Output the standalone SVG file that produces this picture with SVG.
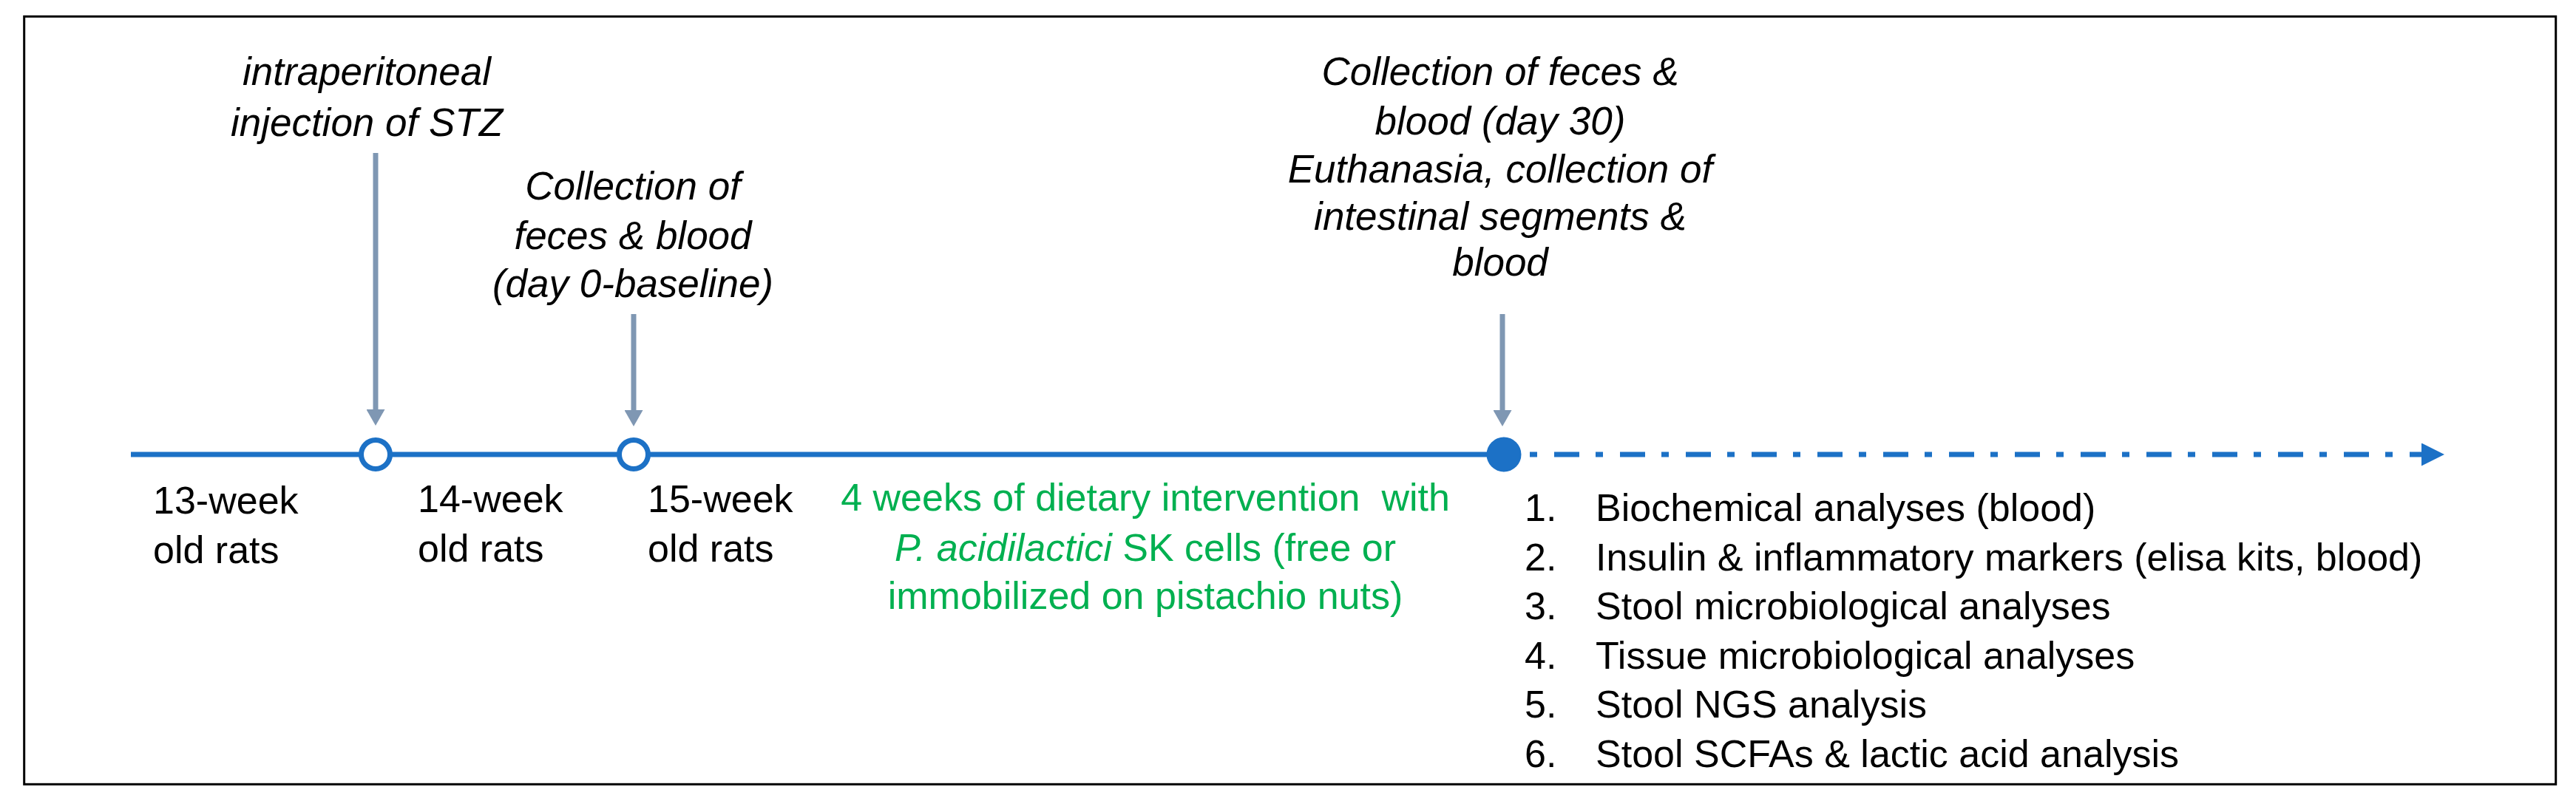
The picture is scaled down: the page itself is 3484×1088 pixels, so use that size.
<svg xmlns="http://www.w3.org/2000/svg" width="3484" height="1088" viewBox="0 0 3484 1088">
<defs>
<style>
.t{font-family:'Liberation Sans',Arial,sans-serif;font-size:52px;fill:#000}
.i{font-style:italic;font-size:53px}
.c{text-anchor:middle}
.g{fill:#00b050}
.tl{stroke:#1c71c6;stroke-width:7;fill:none}
.dash{stroke-dasharray:10 23 34 22}
.ar{stroke:#7f97b3;stroke-width:7;fill:none}
.node{fill:#fff;stroke:#1c71c6;stroke-width:7}
</style>
<marker id="gh" viewBox="0 0 22 25" refX="0" refY="12.5" markerWidth="22" markerHeight="25" markerUnits="userSpaceOnUse" orient="auto">
<path d="M0,0 L22,12.5 L0,25 z" fill="#7f97b3"/>
</marker>
<marker id="bh" viewBox="0 0 31 31" refX="0" refY="15.5" markerWidth="31" markerHeight="31" markerUnits="userSpaceOnUse" orient="auto">
<path d="M0,0 L31,15.5 L0,31 z" fill="#1c71c6"/>
</marker>
</defs>
<rect x="0" y="0" width="3484" height="1088" fill="#fff"/>
<rect id="frame" x="32.7" y="22.3" width="3424" height="1039" fill="none" stroke="#000" stroke-width="3"/>

<g id="connectors">
<line class="tl" x1="177" y1="615" x2="2034" y2="615"/>
<line class="tl dash" x1="2069" y1="615" x2="3275" y2="615" marker-end="url(#bh)"/>
<line class="ar" x1="508" y1="207" x2="508" y2="554" marker-end="url(#gh)"/>
<line class="ar" x1="857" y1="425" x2="857" y2="555" marker-end="url(#gh)"/>
<line class="ar" x1="2032" y1="425" x2="2032" y2="555" marker-end="url(#gh)"/>
</g>

<g id="node-week14">
<circle class="node" cx="508" cy="615" r="19.5"/>
</g>
<g id="node-week15">
<circle class="node" cx="857" cy="615" r="19.5"/>
</g>
<g id="node-day30">
<circle cx="2034" cy="615" r="23.5" fill="#1c71c6"/>
</g>

<g id="label-stz">
<text class="t i c" x="496" y="115">intraperitoneal</text>
<text class="t i c" x="496" y="184">injection of STZ</text>
</g>
<g id="label-baseline">
<text class="t i c" x="856" y="270">Collection of</text>
<text class="t i c" x="856" y="337">feces &amp; blood</text>
<text class="t i c" x="856" y="402">(day 0-baseline)</text>
</g>
<g id="label-day30">
<text class="t i c" x="2029" y="115">Collection of feces &amp;</text>
<text class="t i c" x="2029" y="182">blood (day 30)</text>
<text class="t i c" x="2029" y="247">Euthanasia, collection of</text>
<text class="t i c" x="2029" y="311">intestinal segments &amp;</text>
<text class="t i c" x="2029" y="373">blood</text>
</g>

<g id="label-13">
<text class="t" x="207" y="695">13-week</text>
<text class="t" x="207" y="762">old rats</text>
</g>
<g id="label-14">
<text class="t" x="565" y="693">14-week</text>
<text class="t" x="565" y="760">old rats</text>
</g>
<g id="label-15">
<text class="t" x="876" y="693">15-week</text>
<text class="t" x="876" y="760">old rats</text>
</g>

<g id="label-intervention">
<text class="t c g" x="1549" y="691" xml:space="preserve">4 weeks of dietary intervention  with</text>
<text class="t c g" x="1549" y="759"><tspan font-style="italic">P. acidilactici</tspan> SK cells (free or</text>
<text class="t c g" x="1549" y="824">immobilized on pistachio nuts)</text>
</g>

<g id="label-analyses">
<text class="t" x="2062" y="705">1.</text><text class="t" x="2158" y="705">Biochemical analyses (blood)</text>
<text class="t" x="2062" y="772">2.</text><text class="t" x="2158" y="772">Insulin &amp; inflammatory markers (elisa kits, blood)</text>
<text class="t" x="2062" y="838">3.</text><text class="t" x="2158" y="838">Stool microbiological analyses</text>
<text class="t" x="2062" y="905">4.</text><text class="t" x="2158" y="905">Tissue microbiological analyses</text>
<text class="t" x="2062" y="971">5.</text><text class="t" x="2158" y="971">Stool NGS analysis</text>
<text class="t" x="2062" y="1038">6.</text><text class="t" x="2158" y="1038">Stool SCFAs &amp; lactic acid analysis</text>
</g>
</svg>
